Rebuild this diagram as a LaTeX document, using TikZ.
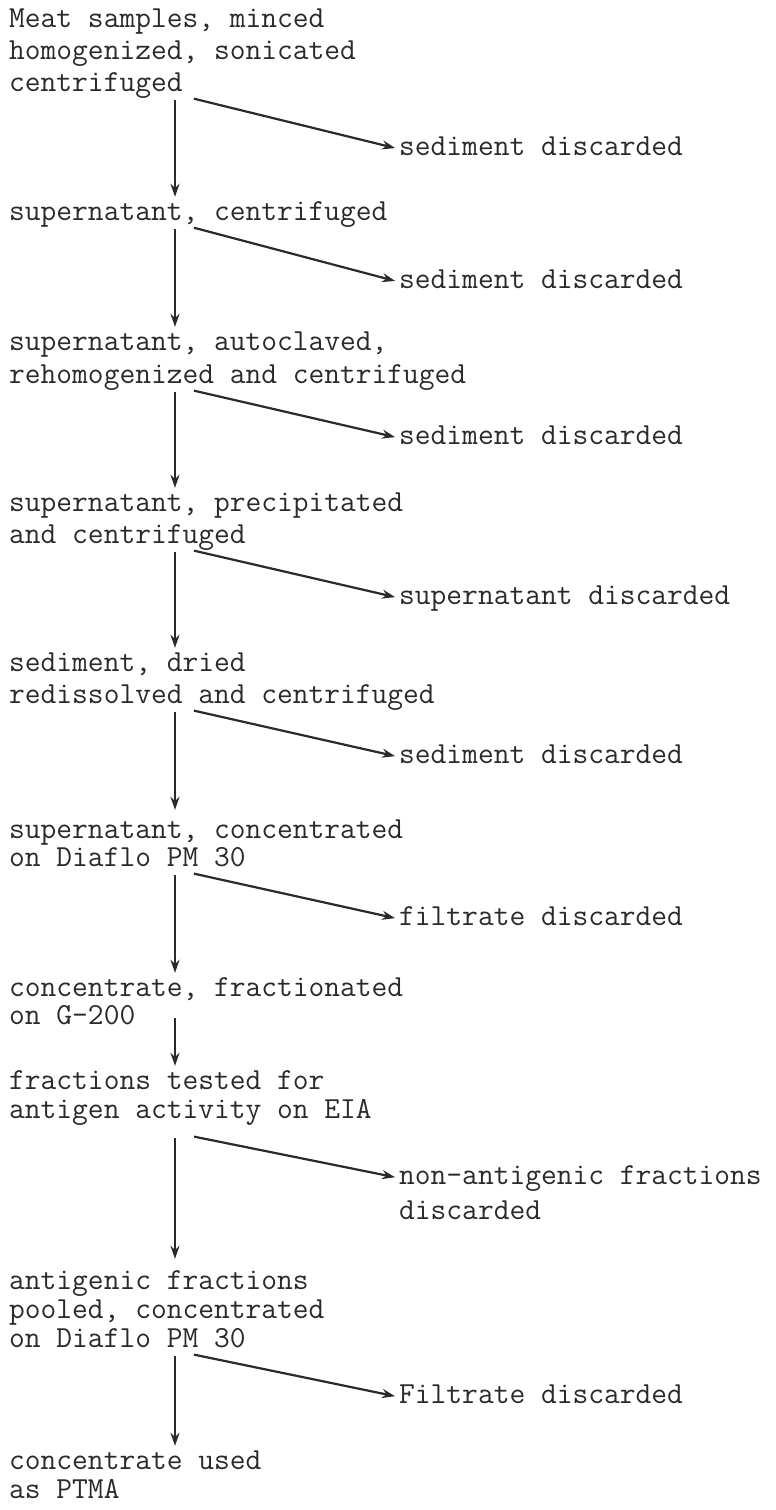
\documentclass[tikz,border=0pt]{standalone}
\usepackage{fontspec}
\usepackage{xcolor}
\usepackage{tikz}
\usetikzlibrary{arrows.meta}
\definecolor{ink}{HTML}{2A2A2A}

\begin{document}
\begin{tikzpicture}[x=1pt,y=-1pt,
  txt/.style={anchor=base west,inner sep=0pt,text height=19pt,text depth=7pt,
    font=\ttfamily\fontsize{30.6}{32}\selectfont,text=ink},
  flow/.style={->,line width=2.2pt,draw=ink,shorten <=2pt,shorten >=4pt},
  >={Stealth[length=13pt,width=9pt]}]
\useasboundingbox (0,0) rectangle (776,1510);

% stages, left column
\node[txt] (meat1) at (9,27) {Meat samples, minced};
\node[txt] (meat2) at (9,59) {homogenized, sonicated};
\node[txt] (meat3) at (9,91) {centrifuged};

\node[txt] (sup) at (9,220) {supernatant, centrifuged};

\node[txt] (auto1) at (9,350) {supernatant, autoclaved,};
\node[txt] (auto2) at (9,383) {rehomogenized and centrifuged};

\node[txt] (prec1) at (9,511) {supernatant, precipitated};
\node[txt] (prec2) at (9,543) {and centrifuged};

\node[txt] (dried1) at (9,671) {sediment, dried};
\node[txt] (dried2) at (9,703) {redissolved and centrifuged};

\node[txt] (diaflo1) at (9,838) {supernatant, concentrated};
\node[txt] (diaflo2) at (9,866) {on Diaflo PM 30};

\node[txt] (gel1) at (9,996) {concentrate, fractionated};
\node[txt] (gel2) at (9,1024) {on G-200};

\node[txt] (eia1) at (9,1089) {fractions tested for};
\node[txt,text depth=18pt] (eia2) at (9,1118) {antigen activity on EIA};

\node[txt] (pool1) at (9,1289) {antigenic fractions};
\node[txt] (pool2) at (9,1318) {pooled, concentrated};
\node[txt] (pool3) at (9,1347) {on Diaflo PM 30};

\node[txt] (ptma1) at (9,1469) {concentrate used};
\node[txt] (ptma2) at (9,1498) {as PTMA};

% what is thrown away, right column
\node[txt] (out1) at (399,155) {sediment discarded};
\node[txt] (out2) at (399,288) {sediment discarded};
\node[txt] (out3) at (399,444) {sediment discarded};
\node[txt] (out4) at (399,604) {supernatant discarded};
\node[txt] (out5) at (399,763) {sediment discarded};
\node[txt] (out6) at (399,925) {filtrate discarded};
\node[txt] (out7) at (399,1184) {non-antigenic fractions};
\node[txt] (out7b) at (399,1219) {discarded};
\node[txt] (out8) at (399,1403) {Filtrate discarded};

\coordinate (col) at (175,0);
\coordinate (col2) at (192,0);

% main line
\draw[flow] (meat3.south -| col) -- (sup.north -| col);
\draw[flow] (sup.south -| col) -- (auto1.north -| col);
\draw[flow] (auto2.south -| col) -- (prec1.north -| col);
\draw[flow] (prec2.south -| col) -- (dried1.north -| col);
\draw[flow,shorten >=9pt] (dried2.south -| col) -- (diaflo1.north -| col);
\draw[flow] (diaflo2.south -| col) -- (gel1.north -| col);
\draw[flow,shorten <=-13pt] (gel2.south -| col) -- (eia1.north -| col);
\draw[flow,shorten >=11pt] (eia2.south -| col) -- (pool1.north -| col);
\draw[flow] (pool3.south -| col) -- (ptma1.north -| col);

% side branches
\draw[flow] (meat3.south -| col2) -- ([yshift=6pt]out1.base west);
\draw[flow] (sup.south -| col2) -- ([yshift=6pt]out2.base west);
\draw[flow] (auto2.south -| col2) -- ([yshift=6pt]out3.base west);
\draw[flow] (prec2.south -| col2) -- ([yshift=6pt]out4.base west);
\draw[flow] (dried2.south -| col2) -- ([yshift=6pt]out5.base west);
\draw[flow] (diaflo2.south -| col2) -- ([yshift=6pt]out6.base west);
\draw[flow] (eia2.south -| col2) -- ([yshift=6pt]out7.base west);
\draw[flow] (pool3.south -| col2) -- ([yshift=6pt]out8.base west);
\end{tikzpicture}
\end{document}
